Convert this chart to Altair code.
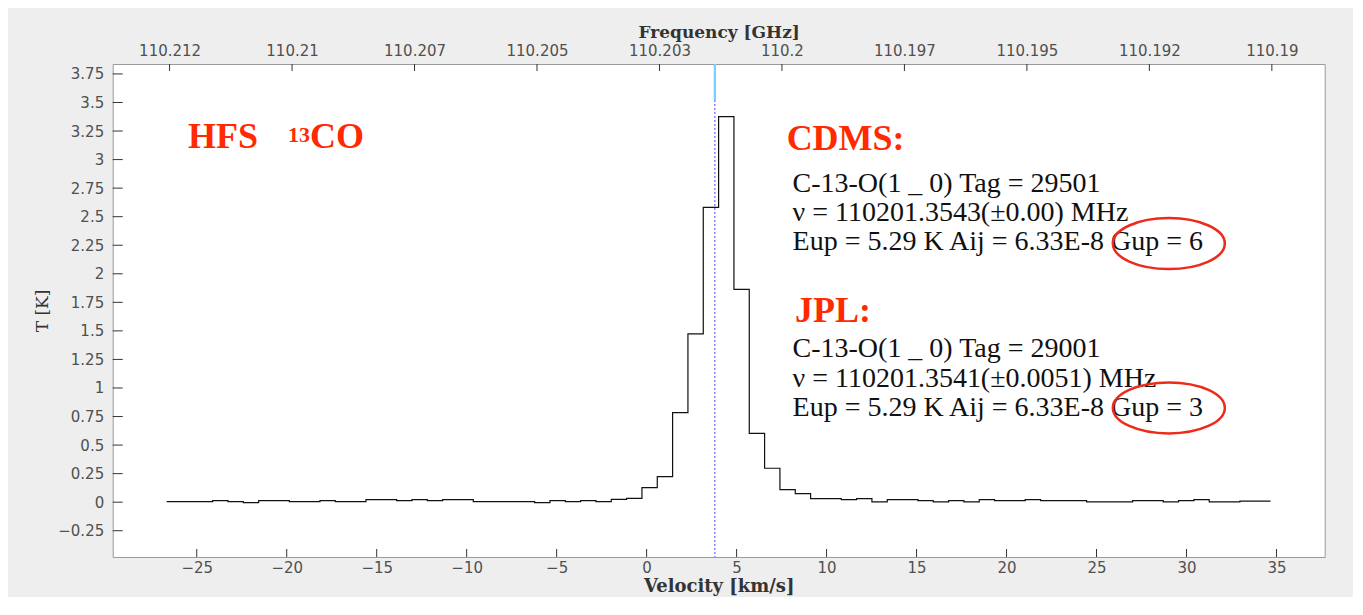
import altair as alt
import pandas as pd

# ---------------- data ----------------
# Spectrum channels: lower edge of first channel, channel width (km/s)
V_FIRST_EDGE = -26.672
CHANNEL_WIDTH = 0.852
# Brightness temperature per channel [K]
T_VALUES = [
    0.005, 0.005, 0.005, 0.013, 0.005, -0.004, 0.013, 0.013, 0.005, 0.005,
    0.013, 0.005, 0.005, 0.022, 0.022, 0.013, 0.022, 0.013, 0.022, 0.022,
    0.005, 0.005, 0.005, 0.005, -0.004, 0.013, 0.005, 0.013, 0.005, 0.025,
    0.034, 0.127, 0.223, 0.784, 1.473, 2.582, 3.376, 1.864, 0.603, 0.297,
    0.110, 0.075, 0.031, 0.031, 0.022, 0.031, 0.002, 0.022, 0.022, 0.013,
    0.002, 0.013, 0.002, 0.022, 0.013, 0.013, 0.022, 0.013, 0.013, 0.013,
    0.002, 0.002, 0.002, 0.013, 0.013, 0.002, 0.013, 0.022, 0.002, 0.002,
    0.010, 0.010,
]
V_LINE = 3.79  # marked line velocity

VEL_TICKS = [-25, -20, -15, -10, -5, 0, 5, 10, 15, 20, 25, 30, 35]
T_TICKS = [-0.25, 0, 0.25, 0.5, 0.75, 1, 1.25, 1.5, 1.75, 2, 2.25, 2.5,
           2.75, 3, 3.25, 3.5, 3.75]
FREQ_TICKS = [110.2125, 110.21, 110.2075, 110.205, 110.2025, 110.2,
              110.1975, 110.195, 110.1925, 110.19]
FREQ_LABELS = ["110.212", "110.21", "110.207", "110.205", "110.203", "110.2",
               "110.197", "110.195", "110.192", "110.19"]

RED_TEXT = ["HFS", "CO", "CDMS:", "JPL:"]
RED_V = [-25.48, -18.71, 7.78, 8.24]
RED_T = [3.10, 3.10, 3.084, 1.581]
SUP_TEXT = ["13"]
SUP_V = [-19.93]
SUP_T = [3.154]
BLACK_TEXT = [
    "C-13-O(1 _ 0) Tag = 29501",
    "\u03bd = 110201.3543(\u00b10.00) MHz",
    "Eup = 5.29 K Aij = 6.33E-8 Gup = 6",
    "C-13-O(1 _ 0) Tag = 29001",
    "\u03bd = 110201.3541(\u00b10.0051) MHz",
    "Eup = 5.29 K Aij = 6.33E-8 Gup = 3",
]
BLACK_V = [8.11, 8.11, 8.11, 8.11, 8.11, 8.11]
BLACK_T = [2.719, 2.465, 2.208, 1.274, 1.011, 0.755]
ELLIPSE_V = [29.02, 29.02]
ELLIPSE_T = [2.265, 0.825]

# ---------------- layout ----------------
X_DOMAIN = [-29.67, 37.68]
Y_DOMAIN = [-0.48, 3.837]
V_REF, F_REF, DF_DV = 7.52, 110.2, 0.00036733


def freq(v):
    return F_REF - DF_DV * (v - V_REF)


F_DOMAIN = [freq(X_DOMAIN[1]), freq(X_DOMAIN[0])]

xs = alt.Scale(domain=X_DOMAIN, nice=False, zero=False)
ys = alt.Scale(domain=Y_DOMAIN, nice=False, zero=False)
fs = alt.Scale(domain=F_DOMAIN, reverse=True, nice=False, zero=False)

LABEL_FONT = "DejaVu Sans"
TITLE_FONT = "DejaVu Serif"
LABEL_SIZE = 15
LABEL_COLOR = "#505050"
TITLE_COLOR = "#333333"

x_axis = alt.Axis(values=VEL_TICKS, format="~d", title="Velocity [km/s]",
                  ticks=False, domain=False, grid=False, labelPadding=4,
                  titlePadding=2, labelFont=LABEL_FONT,
                  labelFontSize=LABEL_SIZE, labelColor=LABEL_COLOR,
                  titleFont=TITLE_FONT, titleFontSize=18,
                  titleFontWeight="bold", titleColor=TITLE_COLOR)
y_axis = alt.Axis(values=T_TICKS, format=".2~f", title="T [K]", ticks=False,
                  domain=False, grid=False, labelPadding=9, titlePadding=6,
                  labelFont=LABEL_FONT, labelFontSize=LABEL_SIZE,
                  labelColor=LABEL_COLOR, titleFont=TITLE_FONT,
                  titleFontSize=17, titleFontWeight="normal",
                  titleColor=TITLE_COLOR)
step = FREQ_TICKS[0] - FREQ_TICKS[1]
label_expr = ("[" + ",".join("'%s'" % s for s in FREQ_LABELS) + "]"
              + "[round((%r - datum.value)/%r)]" % (FREQ_TICKS[0], step))
f_axis = alt.Axis(orient="top", values=FREQ_TICKS, labelExpr=label_expr,
                  title="Frequency [GHz]", ticks=False, domain=False,
                  grid=False, labelPadding=6, titlePadding=2,
                  labelFont=LABEL_FONT, labelFontSize=LABEL_SIZE,
                  labelColor=LABEL_COLOR, titleFont=TITLE_FONT,
                  titleFontSize=17, titleFontWeight="bold",
                  titleColor=TITLE_COLOR)


def X(field):
    return alt.X(field, scale=xs, axis=x_axis)


def Y(field):
    return alt.Y(field, scale=ys, axis=y_axis)


# spectrum
edges = [V_FIRST_EDGE + CHANNEL_WIDTH * i for i in range(len(T_VALUES) + 1)]
spec_df = pd.DataFrame({"v": edges, "T": T_VALUES + [T_VALUES[-1]]})
spectrum = alt.Chart(spec_df).mark_line(
    interpolate="step-after", color="#111111", strokeWidth=1.2
).encode(x=X("v:Q"), y=Y("T:Q"))

vline_df = pd.DataFrame({"v": [V_LINE], "top": [Y_DOMAIN[1]], "low": [3.52]})
vline = alt.Chart(vline_df).mark_rule(
    color="#7b7bff", strokeDash=[2, 2], strokeWidth=1.4
).encode(x=X("v:Q"))
vcyan = alt.Chart(vline_df).mark_rule(color="#6fd3ff", strokeWidth=2.2).encode(
    x=X("v:Q"), y=Y("top:Q"), y2="low:Q")

# inward ticks
bt_df = pd.DataFrame({"v": VEL_TICKS, "y0": Y_DOMAIN[0], "y1": Y_DOMAIN[0] + 0.07})
bticks = alt.Chart(bt_df).mark_rule(color="#333333", strokeWidth=1).encode(
    x=X("v:Q"), y=Y("y0:Q"), y2="y1:Q")
lt_df = pd.DataFrame({"T": T_TICKS, "x0": X_DOMAIN[0], "x1": X_DOMAIN[0] + 0.56})
lticks = alt.Chart(lt_df).mark_rule(color="#333333", strokeWidth=1).encode(
    x=X("x0:Q"), x2="x1:Q", y=Y("T:Q"))

# texts
red_df = pd.DataFrame({"v": RED_V, "T": RED_T, "text": RED_TEXT})
red = alt.Chart(red_df).mark_text(
    align="left", baseline="alphabetic", font="Liberation Serif",
    fontSize=36, fontWeight="bold", color="#ff2a00"
).encode(x=X("v:Q"), y=Y("T:Q"), text="text:N")
sup_df = pd.DataFrame({"v": SUP_V, "T": SUP_T, "text": SUP_TEXT})
sup = alt.Chart(sup_df).mark_text(
    align="left", baseline="alphabetic", font="Liberation Serif",
    fontSize=22, fontWeight="bold", color="#ff2a00"
).encode(x=X("v:Q"), y=Y("T:Q"), text="text:N")
blk_df = pd.DataFrame({"v": BLACK_V, "T": BLACK_T, "text": BLACK_TEXT})
blk = alt.Chart(blk_df).mark_text(
    align="left", baseline="alphabetic", font="Liberation Serif",
    fontSize=28, color="#111111"
).encode(x=X("v:Q"), y=Y("T:Q"), text="text:N")

ELLIPSE = ("M-1,0 C-1,-0.2513 -0.5523,-0.455 0,-0.455 "
           "C0.5523,-0.455 1,-0.2513 1,0 C1,0.2513 0.5523,0.455 0,0.455 "
           "C-0.5523,0.455 -1,0.2513 -1,0 Z")
ell_df = pd.DataFrame({"v": ELLIPSE_V, "T": ELLIPSE_T})
ell = alt.Chart(ell_df).mark_point(
    shape=ELLIPSE, size=112 * 112, filled=False, stroke="#ee2b1a",
    strokeWidth=2.5, opacity=1
).encode(x=X("v:Q"), y=Y("T:Q"))

inner = alt.layer(spectrum, vline, vcyan, bticks, lticks, red, sup, blk, ell)

# top frequency axis with inward ticks
ft_df = pd.DataFrame({"f": FREQ_TICKS, "y0": Y_DOMAIN[1], "y1": Y_DOMAIN[1] - 0.061})
fticks = alt.Chart(ft_df).mark_rule(color="#333333", strokeWidth=1).encode(
    x=alt.X("f:Q", scale=fs, axis=f_axis), y=Y("y0:Q"), y2="y1:Q")

chart = alt.layer(inner, fticks).resolve_scale(x="independent").properties(
    width=1212,
    height=493,
    autosize=alt.AutoSizeParams(type="none"),
    padding={"left": 104.7, "top": 56, "right": 28, "bottom": 40},
    background="#eeeeee",
).configure_view(stroke="#9a9a9a", strokeWidth=1, fill="white")

chart.save("out.html", embed_options={"renderer": "svg", "actions": False})
